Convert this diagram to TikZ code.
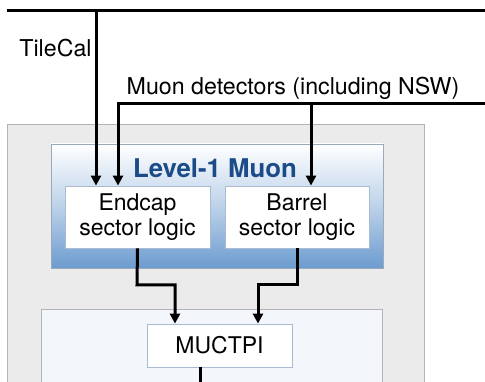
\documentclass[tikz,border=0pt]{standalone}
\usepackage{fontspec}
\setmainfont{TeX Gyre Heros}
\usetikzlibrary{arrows.meta}
\definecolor{outerfill}{HTML}{EBEBEB}
\definecolor{outerdraw}{HTML}{B4B4B4}
\definecolor{lvlborder}{HTML}{9AAABB}
\definecolor{lvlbottom}{HTML}{6C9BCF}
\definecolor{lvltitle}{HTML}{1B4C87}
\definecolor{boxborder}{HTML}{A8BBD3}
\definecolor{lowfill}{HTML}{F3F6FA}
\begin{document}
\begin{tikzpicture}[x=1pt,y=-1pt,
  lbl/.style={font=\fontsize{23.2}{26}\selectfont, inner sep=0pt},
  panel/.style={draw=outerdraw, fill=outerfill, line width=0.8pt, inner sep=0pt},
  lvlbox/.style={draw=lvlborder, line width=0.8pt, top color=white, bottom color=lvlbottom, middle color=white!55!lvlbottom, inner sep=0pt},
  logicbox/.style={draw=boxborder, fill=white, line width=0.8pt, inner sep=0pt, align=center, font=\fontsize{23}{25.5}\selectfont},
  lowpanel/.style={draw=outerdraw, fill=lowfill, line width=0.8pt, inner sep=0pt},
  wire/.style={line width=3pt},
  arr/.style={wire, -{Triangle[length=10pt,width=10pt]}}
]
\clip (0,0) rectangle (485,382);
\useasboundingbox (0,0) rectangle (485,382);
\fill[white] (0,0) rectangle (485,382);

% panels
\node[panel, minimum width=417pt, minimum height=290pt] (outer) at (215.5,269) {};
\node[lvlbox, minimum width=332pt, minimum height=124pt] (lvl) at (217,206) {};
\node[lowpanel, minimum width=341pt, minimum height=100pt] (low) at (211.5,359) {};

% labels
\node[lbl, text=lvltitle, font=\fontsize{25.8}{28}\selectfont\bfseries] (title) at (215,168) {Level-1 Muon};
\node[lbl, anchor=base] (tile) at (55.5,57) {TileCal};
\node[lbl, anchor=base] (muon) at (293,95) {Muon detectors (including NSW)};

% boxes
\node[logicbox, minimum width=145pt, minimum height=62pt] (endcap) at (137.5,217) {Endcap\\sector logic};
\node[logicbox, minimum width=144pt, minimum height=62pt] (barrel) at (297,217) {Barrel\\sector logic};
\node[logicbox, minimum width=145pt, minimum height=43pt] (muctpi) at (219.5,345.5) {MUCTPI};

% input wires
\coordinate (topL) at (7,11);
\coordinate (topR) at (490,11);
\coordinate (tileTop) at (96,11);
\coordinate (muR) at (490,104);
\coordinate (muL) at (118,104);
\coordinate (muB) at (311,104);
\coordinate (bottomOut) at (200,390);

\draw[wire] (topL) -- (topR);
\draw[arr] (tileTop) -- (tileTop |- endcap.north);
\draw[arr] (muR) -- (muL) -- (muL |- endcap.north);
\draw[arr] (muB) -- (muB |- barrel.north);

% output wires
\draw[arr] (endcap.south) -- (137,285) -- (175,285) -- ([xshift=-44.5pt]muctpi.north);
\draw[arr] (barrel.south) -- (297,285) -- (258,285) -- ([xshift=38.5pt]muctpi.north);
\draw[wire] ([xshift=-19.5pt]muctpi.south) -- ([xshift=-19.5pt]muctpi.south |- bottomOut);
\end{tikzpicture}
\end{document}
